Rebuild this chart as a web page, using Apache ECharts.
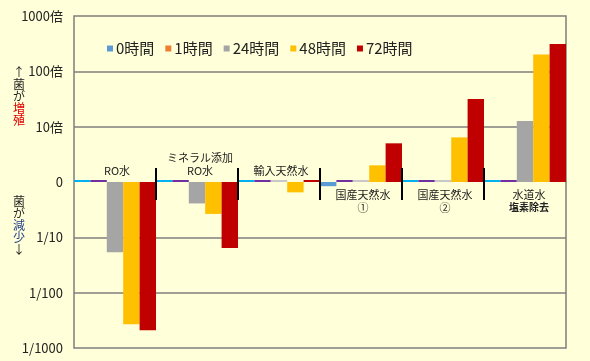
<!DOCTYPE html>
<html>
<head>
<meta charset="utf-8">
<script src="https://cdn.jsdelivr.net/npm/echarts@6/dist/echarts.min.js"></script>
<style>
html,body{margin:0;padding:0;background:#FFFFD9;}
#c{width:590px;height:361px;}
</style>
</head>
<body>
<div id="c"></div>
<script>
// ---- data ----
var categories = ['RO水', 'ミネラル添加\nRO水', '輸入天然水', '国産天然水\n①', '国産天然水\n②', '水道水\n塩素除去'];
var seriesNames = ['0時間', '1時間', '24時間', '48時間', '72時間'];
var h0  = [1, 1, 1, 0.84, 1, 1];
var h1  = [1, 1, 1, 1, 1, 1];
var h24 = [0.054, 0.41, 1.0, 1.0, 1.0, 12.7];
var h48 = [0.0027, 0.265, 0.65, 2.0, 6.4, 202];
var h72 = [0.0021, 0.064, 1.0, 5.0, 31.7, 311];
var yTickValues = [0.001, 0.01, 0.1, 1, 10, 100, 1000];
var yTickLabels = ['1/1000', '1/100', '1/10', '0', '10倍', '100倍', '1000倍'];

// ---- styles ----
var FONT = '"Noto Sans CJK JP", "Noto Sans", sans-serif';
var colors = ['#5B9BD5', '#ED7D31', '#A5A5A5', '#FFC000', '#C00000'];
var baseColors = ['#00B0F0', '#7030A0', '#C8C8C8', '#FFC000', '#C00000'];
var labelAbove = [true, true, true, false, false, false];
var gridColor = '#7F7F7F';

var values = [h0, h1, h24, h48, h72];
var series = values.map(function (arr, si) {
  return {
    name: seriesNames[si],
    type: 'bar',
    barGap: '0%',
    barCategoryGap: '0%',
    barMinHeight: 2,
    itemStyle: { color: colors[si] },
    data: arr.map(function (v) {
      return v === 1 ? { value: v, itemStyle: { color: baseColors[si] } } : v;
    }),
    markLine: si === 0 ? {
      silent: true, symbol: 'none', z: 1,
      label: { show: false },
      lineStyle: { color: gridColor, width: 1.5, type: 'solid' },
      data: yTickValues.filter(function (v) { return v !== 1 && v !== 1000 && v !== 0.001; })
        .map(function (v) { return { yAxis: v }; })
    } : undefined
  };
});

var chart = echarts.init(document.getElementById('c'), null, { renderer: 'canvas' });
chart.setOption({
  backgroundColor: '#FFFFD9',
  animation: false,
  textStyle: { fontFamily: FONT },
  grid: { left: 74, right: 24, top: 16, bottom: 13, show: true, borderColor: gridColor, borderWidth: 1.5, backgroundColor: 'transparent' },
  legend: {
    data: seriesNames,
    left: 102, top: 36,
    itemWidth: 6, itemHeight: 6, itemGap: 11,
    icon: 'rect',
    itemStyle: { borderWidth: 0 },
    textStyle: { fontSize: 15, color: '#222', fontFamily: FONT, padding: [0, 0, 0, -2] }
  },
  xAxis: {
    type: 'category', data: categories,
    axisLine: { show: false }, axisTick: { show: false }, axisLabel: { show: false }, splitLine: { show: false }
  },
  yAxis: {
    type: 'log', logBase: 10, min: 0.001, max: 1000, splitNumber: 6,
    axisLine: { show: false }, axisTick: { show: false }, splitLine: { show: false },
    axisLabel: {
      margin: 11, fontSize: 13, color: '#222', fontFamily: FONT,
      formatter: function (v) {
        var i = yTickValues.indexOf(v);
        if (i < 0) {
          var e = Math.round(Math.log10(v));
          i = yTickValues.indexOf(Math.pow(10, e));
          if (i < 0) i = e + 3;
        }
        return yTickLabels[i];
      }
    }
  },
  series: series
});

// ---- annotations positioned from axis scales ----
var base = chart.convertToPixel({ yAxisIndex: 0 }, 1);
var centers = categories.map(function (c, i) { return chart.convertToPixel({ xAxisIndex: 0 }, i); });
var graphics = [];
for (var i = 0; i < centers.length - 1; i++) {
  var bx = (centers[i] + centers[i + 1]) / 2;
  graphics.push({ type: 'line', shape: { x1: bx, y1: base - 14, x2: bx, y2: base + 18 }, style: { stroke: '#000', lineWidth: 2 }, z: 10 });
}
categories.forEach(function (c, i) {
  var parts = c.split('\n');
  var txt = parts.map(function (p, k) { return (i === 5 && k === 1) ? '{b|' + p + '}' : '{a|' + p + '}'; }).join('\n');
  graphics.push({
    type: 'text', z: 10,
    x: centers[i] + (i === 1 ? 3 : (i === 5 ? 4 : 2)),
    y: labelAbove[i] ? base - 5 : base + 6,
    style: {
      text: txt, align: 'center', verticalAlign: labelAbove[i] ? 'bottom' : 'top',
      rich: {
        a: { fontSize: 11, lineHeight: 13, fill: '#222', fontFamily: FONT },
        b: { fontSize: 10, lineHeight: 13, fill: '#222', fontWeight: 'bold', fontFamily: FONT }
      }
    }
  });
});
// side annotations
graphics.push({
  type: 'text', x: 19, y: 66, z: 10,
  style: {
    text: '{a|↑}\n{a|菌}\n{a|が}\n{r|増}\n{r|殖}', align: 'center', verticalAlign: 'top',
    rich: {
      a: { fontSize: 12, lineHeight: 12, fill: '#222', fontFamily: FONT },
      r: { fontSize: 12, lineHeight: 12, fill: '#E00000', fontFamily: FONT }
    }
  }
});
graphics.push({
  type: 'text', x: 19, y: 195, z: 10,
  style: {
    text: '{a|菌}\n{a|が}\n{r|減}\n{r|少}\n{a|↓}', align: 'center', verticalAlign: 'top',
    rich: {
      a: { fontSize: 12, lineHeight: 12, fill: '#222', fontFamily: FONT },
      r: { fontSize: 12, lineHeight: 12, fill: '#1F3C88', fontFamily: FONT }
    }
  }
});
chart.setOption({ graphic: graphics });
</script>
</body>
</html>
